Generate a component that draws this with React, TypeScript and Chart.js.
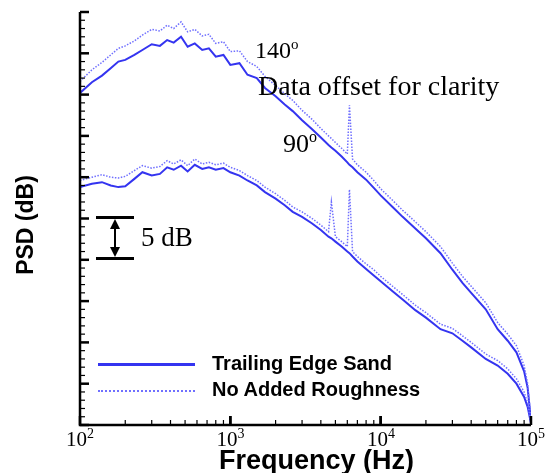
import React, { useEffect, useRef } from "react";
import { Chart, registerables } from "chart.js";
Chart.register(...registerables);

const freqs = [100,120,140,160,180,200,230,260,300,340,380,420,470,520,580,650,720,800,900,1000,1150,1300,1500,1700,2000,2300,2600,3000,3500,4000,4500,4700,5000,5500,6000,6200,6500,7000,8000,9000,10000,12000,14000,17000,20000,25000,30000,35000,40000,50000,60000,70000,80000,90000,95000,100000];
const sand140 = [40.2,41.5,42.3,43.2,44.0,44.2,44.8,45.4,46.1,45.9,46.6,46.3,47.0,45.8,46.2,45.4,45.6,44.6,44.8,43.6,43.8,42.4,42.0,40.8,39.8,38.8,38.0,36.9,35.8,34.8,33.9,33.6,33.2,32.5,31.8,31.5,31.2,30.6,29.7,28.7,27.8,26.4,25.2,23.8,22.6,20.8,18.8,17.2,16.0,14.0,11.6,10.2,8.8,6.5,4.5,0.5];
const smooth140 = [41.6,43.0,43.9,44.8,45.6,45.9,46.5,47.2,47.9,47.7,48.4,48.0,48.8,47.6,47.9,47.1,47.3,46.2,46.4,45.2,45.3,44.0,43.4,42.2,41.1,40.1,39.3,38.1,37.0,35.9,35.0,34.7,34.2,33.5,32.8,38.7,32.2,31.5,30.6,29.6,28.6,27.2,26.0,24.6,23.4,21.6,19.6,18.0,16.8,14.8,12.4,11.0,9.6,7.2,5.0,0.5];
const sand90 = [28.8,29.2,29.4,29.0,28.8,28.9,29.8,30.6,30.2,30.4,31.2,30.9,31.4,30.7,31.5,31.0,31.2,30.9,31.1,30.6,30.2,29.6,29.0,28.2,27.4,26.6,25.8,25.2,24.4,23.6,22.8,22.6,22.2,21.6,21.0,20.8,20.4,19.8,18.9,18.1,17.4,16.2,15.2,13.9,13.0,11.6,11.1,10.2,9.4,8.0,7.2,6.2,5.0,3.4,2.2,0.2];
const smooth90 = [29.6,30.0,30.3,30.0,29.9,30.1,30.8,31.4,31.1,31.3,32.0,31.6,32.1,31.4,32.2,31.6,31.8,31.5,31.7,31.2,30.8,30.2,29.6,28.8,28.0,27.2,26.4,25.8,25.0,24.2,23.4,27.0,22.8,22.2,21.6,28.5,21.0,20.4,19.5,18.8,18.0,16.8,15.8,14.5,13.6,12.2,11.7,10.8,10.0,8.6,7.8,6.8,5.6,4.0,2.6,0.2];
const xTickExps = [2, 3, 4, 5];
const legendLabels = ["Trailing Edge Sand", "No Added Roughness"];

const SOLID = "#3434f0";
const DOT = "#7070ff";

export default function App() {
  const ref = useRef<HTMLCanvasElement>(null);
  useEffect(() => {
    const mk = (vals: number[]) => freqs.map((f, i) => ({ x: f, y: vals[i] }));
    const axesPlugin = {
      id: "axesDraw",
      afterDatasetsDraw(chart: any) {
        const { ctx, chartArea: a, scales } = chart;
        const xs = scales.x, ys = scales.y;
        ctx.save();
        ctx.strokeStyle = "#000";
        ctx.lineWidth = 2.5;
        ctx.beginPath();
        ctx.moveTo(a.left, a.top); ctx.lineTo(a.left, a.bottom); ctx.lineTo(a.right, a.bottom);
        ctx.stroke();
        for (let v = 0; v <= 50; v++) {
          const y = ys.getPixelForValue(v);
          const len = v % 5 === 0 ? 9 : 5;
          ctx.lineWidth = v % 5 === 0 ? 2.5 : 1.2;
          ctx.beginPath(); ctx.moveTo(a.left, y); ctx.lineTo(a.left + len, y); ctx.stroke();
        }
        for (let e = 2; e <= 4; e++) {
          for (let m = 1; m <= 10; m++) {
            const x = xs.getPixelForValue(m * Math.pow(10, e));
            const major = m === 1 || m === 10;
            ctx.lineWidth = major ? 2.5 : 1.2;
            const len = major ? 9 : 5;
            ctx.beginPath(); ctx.moveTo(x, a.bottom); ctx.lineTo(x, a.bottom - len); ctx.stroke();
          }
        }
        ctx.restore();
      },
    };
    const chart = new Chart(ref.current!, {
      type: "line",
      data: {
        datasets: [
          { data: mk(smooth140), borderColor: DOT, borderWidth: 1.5, borderDash: [1.5, 1.5], pointRadius: 0 },
          { data: mk(smooth90), borderColor: DOT, borderWidth: 1.5, borderDash: [1.5, 1.5], pointRadius: 0 },
          { data: mk(sand140), borderColor: SOLID, borderWidth: 2, pointRadius: 0 },
          { data: mk(sand90), borderColor: SOLID, borderWidth: 2, pointRadius: 0 },
        ],
      },
      options: {
        responsive: false,
        animation: false,
        layout: { padding: { left: 80, right: 16, top: 12, bottom: 48 } },
        plugins: { legend: { display: false }, tooltip: { enabled: false } },
        scales: {
          x: { type: "logarithmic", min: 100, max: 100000, display: false },
          y: { type: "linear", min: 0, max: 50, display: false },
        },
      },
      plugins: [axesPlugin],
    });
    return () => chart.destroy();
  }, []);

  const serif = "'Liberation Serif', 'Times New Roman', serif";
  const sans = "'Liberation Sans', Arial, sans-serif";
  const xPos = [80, 230.5, 381, 531];
  return (
    <div style={{ position: "absolute", left: 0, top: 0, width: 547, height: 473, background: "#fff", overflow: "hidden" }}>
      <canvas ref={ref} width={547} height={473} style={{ position: "absolute", left: 0, top: 0 }} />
      {xTickExps.map((e, i) => (
        <div key={e} style={{ position: "absolute", top: 427, left: xPos[i] - 30, width: 60, textAlign: "center", fontFamily: serif, fontSize: 21, lineHeight: "24px" }}>
          10<sup style={{ fontSize: 14, verticalAlign: "top", lineHeight: "14px" }}>{e}</sup>
        </div>
      ))}
      <div style={{ position: "absolute", top: 444, left: 0, width: 633, textAlign: "center", fontFamily: sans, fontWeight: "bold", fontSize: 27, lineHeight: "32px" }}>Frequency (Hz)</div>
      <div style={{ position: "absolute", left: 25, top: 225, transform: "translate(-50%,-50%) rotate(-90deg)", fontFamily: sans, fontWeight: "bold", fontSize: 23, whiteSpace: "nowrap" }}>PSD (dB)</div>
      <div style={{ position: "absolute", left: 255, top: 36, fontFamily: serif, fontSize: 24 }}>140<sup style={{ fontSize: 15 }}>o</sup></div>
      <div style={{ position: "absolute", left: 258, top: 70, fontFamily: serif, fontSize: 28, whiteSpace: "nowrap" }}>Data offset for clarity</div>
      <div style={{ position: "absolute", left: 283, top: 128, fontFamily: serif, fontSize: 26 }}>90<sup style={{ fontSize: 16 }}>o</sup></div>
      <div style={{ position: "absolute", left: 96, top: 216, width: 38, height: 3, background: "#000" }} />
      <div style={{ position: "absolute", left: 96, top: 257, width: 38, height: 3, background: "#000" }} />
      <svg style={{ position: "absolute", left: 105, top: 219 }} width={20} height={38}>
        <line x1={10} y1={5} x2={10} y2={33} stroke="#000" strokeWidth={2} />
        <polygon points="10,0 5,10 15,10" fill="#000" />
        <polygon points="10,38 5,28 15,28" fill="#000" />
      </svg>
      <div style={{ position: "absolute", left: 141, top: 222, fontFamily: serif, fontSize: 27 }}>5 dB</div>
      <div style={{ position: "absolute", left: 98, top: 363, width: 97, height: 3, background: SOLID }} />
      <div style={{ position: "absolute", left: 98, top: 390, width: 97, height: 0, borderTop: `2px dotted ${DOT}` }} />
      <div style={{ position: "absolute", left: 212, top: 351, fontFamily: sans, fontWeight: "bold", fontSize: 20, lineHeight: "24px" }}>{legendLabels[0]}</div>
      <div style={{ position: "absolute", left: 212, top: 377, fontFamily: sans, fontWeight: "bold", fontSize: 20, lineHeight: "24px" }}>{legendLabels[1]}</div>
    </div>
  );
}
